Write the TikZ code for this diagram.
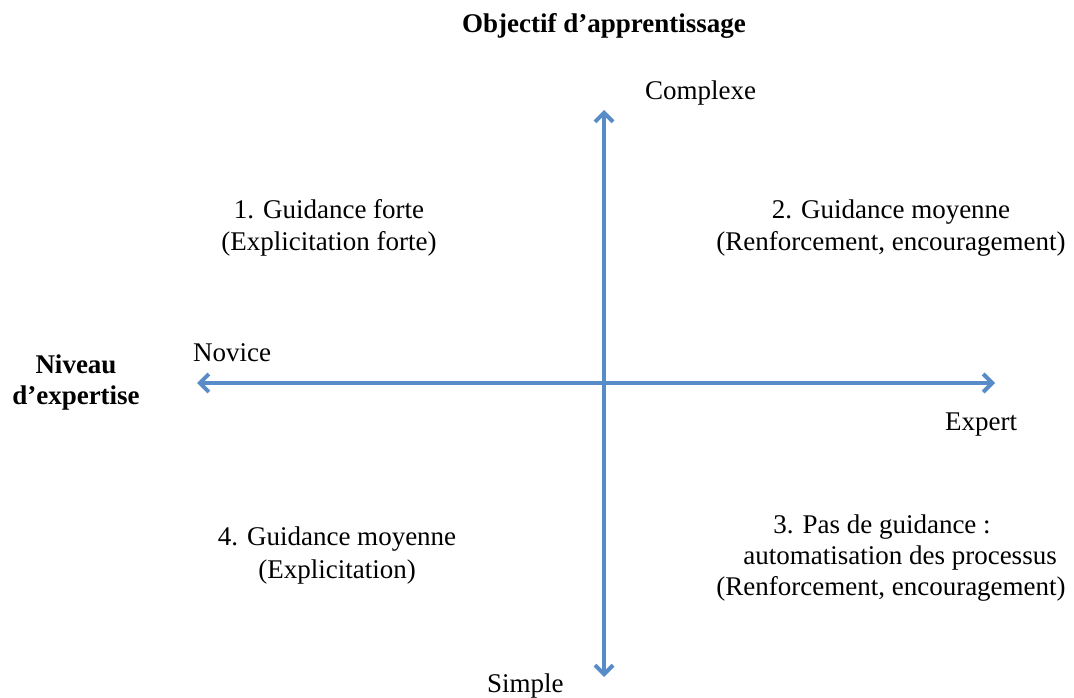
\documentclass[tikz,border=0pt]{standalone}
\usepackage{fontspec}
\setmainfont{Liberation Serif}
\usetikzlibrary{arrows.meta}
\definecolor{axisblue}{RGB}{88,140,200}
\tikzset{
  barb/.tip={Straight Barb[length=9pt,width=18pt]},
  axis/.style={axisblue, line width=4pt, barb-barb},
  lbl/.style={inner sep=0pt, anchor=base, font=\fontsize{27}{32}\selectfont},
  head/.style={lbl, align=center, font=\fontsize{27}{31}\selectfont\bfseries},
  quad/.style={lbl, align=center},
}
\begin{document}
\begin{tikzpicture}[x=1pt, y=-1pt]
    \useasboundingbox (0,0) rectangle (1074,698);
    \coordinate (w) at (197,383); \coordinate (e) at (995,383);
    \coordinate (n) at (604,110); \coordinate (s) at (604,677);
    \foreach \p/\q in {w/e, s/n} \draw[axis] (\p) -- (\q); % axes
    \node[head] (obj) at (604,33) {Objectif d’apprentissage};
    \node[head] (niv) at (76,404) {Niveau\\d’expertise};
    \node[lbl, anchor=base west] (cplx) at (645,100) {Complexe};
    \node[lbl, anchor=base west] (smpl) at (487,692) {Simple};
    \node[lbl, anchor=base west] (nov) at (193,361) {Novice};
    \node[lbl, anchor=base west] (expt) at (945,430) {Expert};
    \node[quad] (q1) at (329,250) {1. Guidance forte\\(Explicitation forte)};
    \node[quad] (q2) at (891,250) {2. Guidance moyenne\\(Renforcement, encouragement)};
    \node[quad, font=\fontsize{27}{31}\selectfont] (q3) at (891,595)
        {3. Pas de guidance~:\hspace*{18pt}\\\hspace*{18pt}automatisation des processus\\(Renforcement, encouragement)};
    \node[quad, font=\fontsize{27}{33}\selectfont] (q4) at (337,578) {4. Guidance moyenne\\(Explicitation)};
\end{tikzpicture}
\end{document}
